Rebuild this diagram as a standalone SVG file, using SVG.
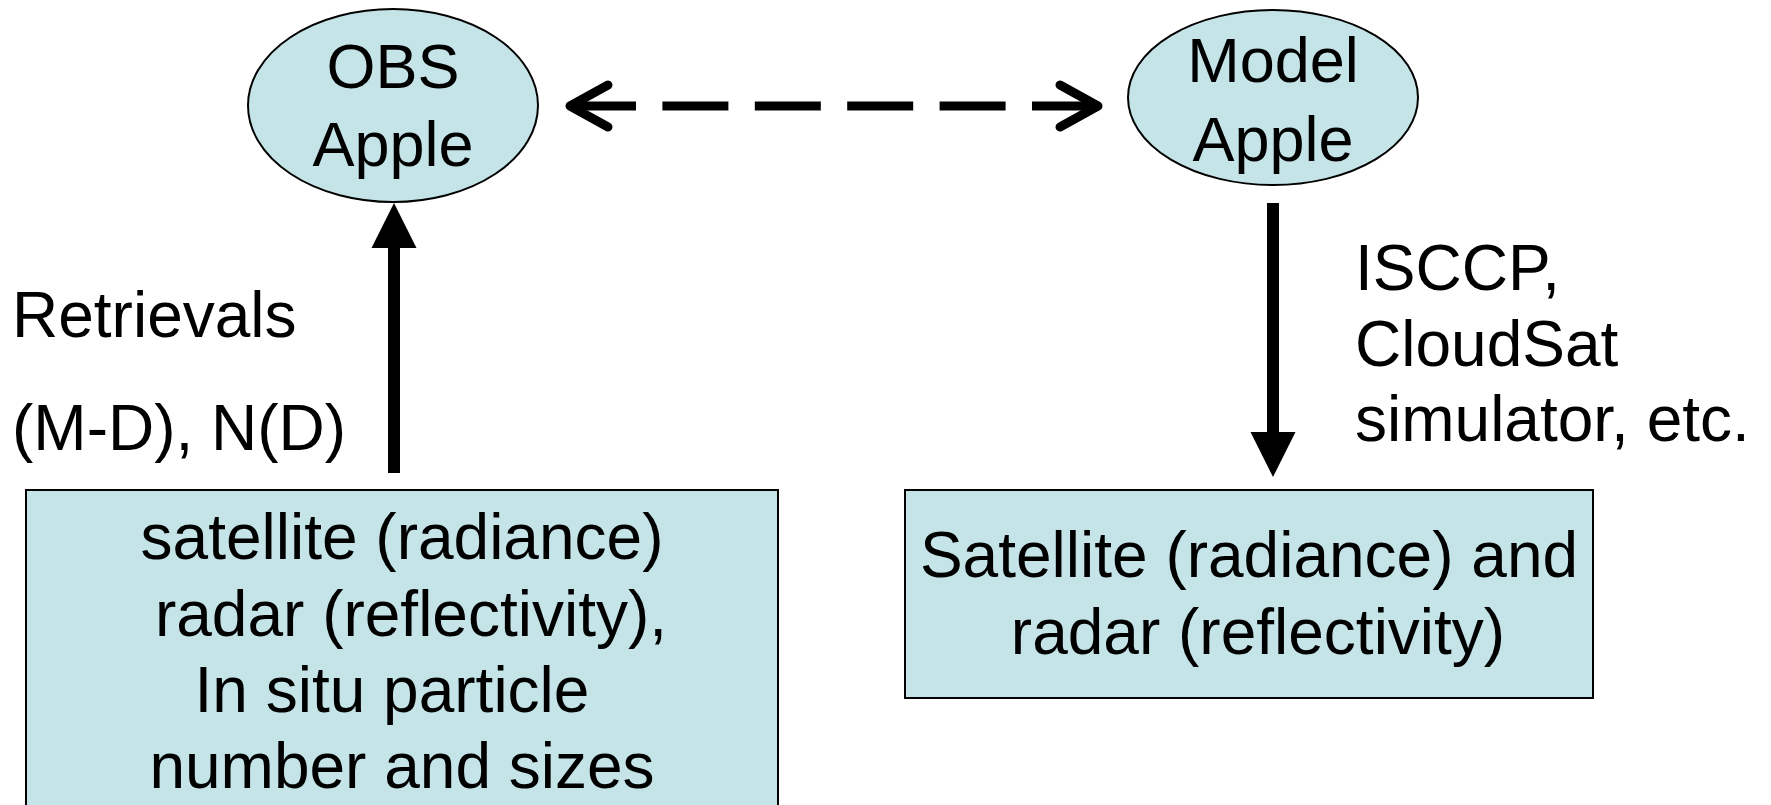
<svg xmlns="http://www.w3.org/2000/svg" width="1771" height="805" viewBox="0 0 1771 805">
  <style>
    .shape { fill: #c5e4e8; stroke: #000; stroke-width: 2; }
    .lbl { font-family: "Liberation Sans", Arial, sans-serif; font-size: 64px; fill: #000; }
    .oval { font-family: "Liberation Sans", Arial, sans-serif; font-size: 63px; fill: #000; text-anchor: middle; }
    .solid { stroke: #000; stroke-width: 12; fill: none; }
    .dash { stroke: #000; stroke-width: 9; fill: none; stroke-dasharray: 66 26.4; }
  </style>
  <defs>
    <marker id="head" markerUnits="userSpaceOnUse" markerWidth="46" markerHeight="46" refX="0" refY="22.5" orient="auto" overflow="visible">
      <path d="M0,0 L45,22.5 L0,45 Z" fill="#000"/>
    </marker>
    <marker id="chevron" markerUnits="userSpaceOnUse" markerWidth="50" markerHeight="50" refX="42" refY="21" orient="auto-start-reverse" overflow="visible">
      <path d="M4,0 L42,21 L4,42" fill="none" stroke="#000" stroke-width="9" stroke-linecap="round" stroke-linejoin="round"/>
    </marker>
  </defs>

  <rect width="1771" height="805" fill="#fff"/>

  <!-- connectors -->
  <g id="connectors">
    <line class="dash" x1="570" y1="106" x2="1098" y2="106" marker-start="url(#chevron)" marker-end="url(#chevron)"/>
    <line class="solid" x1="394" y1="473" x2="394" y2="248" marker-end="url(#head)"/>
    <line class="solid" x1="1273" y1="203" x2="1273" y2="432" marker-end="url(#head)"/>
  </g>

  <!-- connector labels -->
  <g id="retrieval-label" class="lbl">
    <text x="12" y="337">Retrievals</text>
    <text x="12" y="450">(M-D), N(D)</text>
  </g>
  <g id="simulator-label" class="lbl">
    <text x="1355" y="290">ISCCP,</text>
    <text x="1355" y="366">CloudSat</text>
    <text x="1355" y="441">simulator, etc.</text>
  </g>

  <!-- nodes -->
  <g id="obs-apple">
    <ellipse class="shape" cx="393" cy="105.5" rx="145" ry="96.5"/>
    <text class="oval" x="393" y="88">OBS</text>
    <text class="oval" x="393" y="166">Apple</text>
  </g>
  <g id="model-apple">
    <ellipse class="shape" cx="1273" cy="97.5" rx="145" ry="87.5"/>
    <text class="oval" x="1273" y="82">Model</text>
    <text class="oval" x="1273" y="161">Apple</text>
  </g>
  <g id="obs-sources">
    <rect class="shape" x="26" y="490" width="752" height="330"/>
    <g class="lbl" text-anchor="middle">
      <text x="402" y="559">satellite (radiance)</text>
      <text x="411" y="636">radar (reflectivity),</text>
      <text x="392" y="712">In situ particle</text>
      <text x="402" y="788">number and sizes</text>
    </g>
  </g>
  <g id="model-output">
    <rect class="shape" x="905" y="490" width="688" height="208"/>
    <g class="lbl" text-anchor="middle">
      <text x="1249" y="577">Satellite (radiance) and</text>
      <text x="1258" y="654">radar (reflectivity)</text>
    </g>
  </g>
</svg>
